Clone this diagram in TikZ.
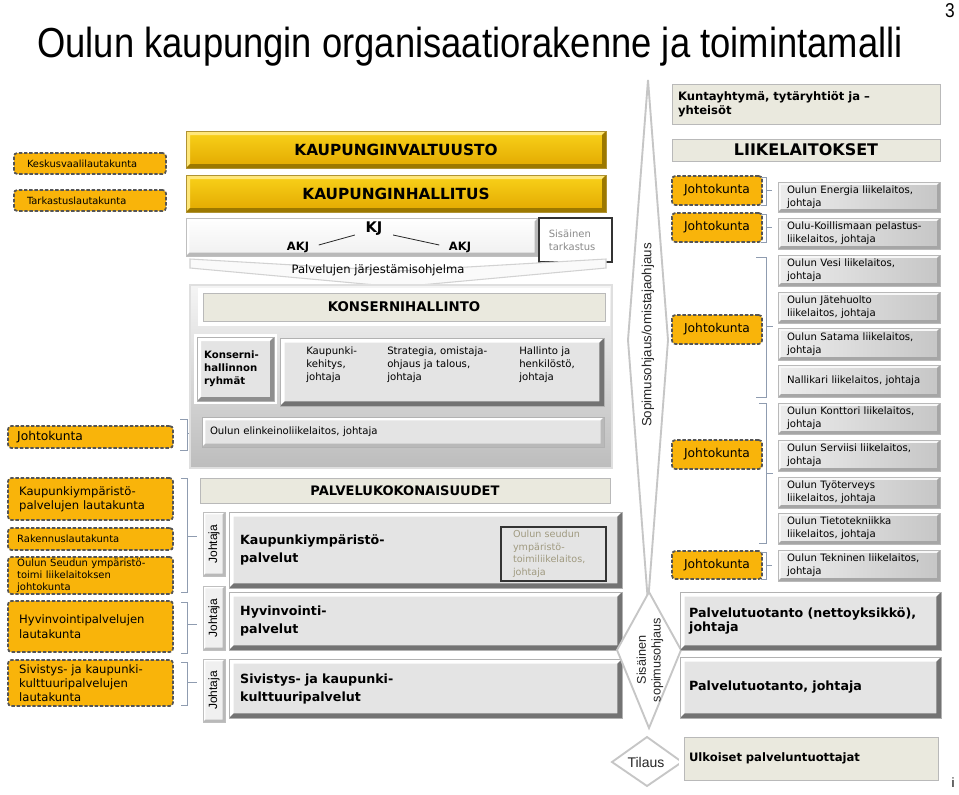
\documentclass[tikz,border=0pt]{standalone}
\usepackage{fontspec}
\usepackage{graphicx}
\setmainfont{DejaVu Sans}
\newfontfamily\arialf{Liberation Sans}
\usetikzlibrary{calc}
\definecolor{orng}{HTML}{F9B40A}
\definecolor{dashc}{HTML}{555555}
\definecolor{ytop}{HTML}{F9D21A}
\definecolor{ybot}{HTML}{E2A800}
\definecolor{yhi}{HTML}{FFE77A}
\definecolor{ydk}{HTML}{9C7800}
\definecolor{gfill}{HTML}{E4E4E4}
\definecolor{gdk}{HTML}{8E8E8E}
\definecolor{beige}{HTML}{EAE9DE}
\definecolor{khaki}{HTML}{A09A80}
\definecolor{txtgray}{HTML}{8A8A8A}
\definecolor{brkc}{HTML}{8F9CB0}
\newcommand\fsL{\fontsize{7.6}{9.75}\selectfont}
\newcommand\fsO{\fontsize{8.7}{10.8}\selectfont}
\newcommand\fsOs{\fontsize{7.5}{9}\selectfont}
\newcommand\fsJ{\fontsize{9.2}{11}\selectfont}
\newcommand\fsS{\bfseries\fontsize{9.5}{13.5}\selectfont}
\tikzset{
 bev/.style n args={3}{path picture={
   \fill[#1] (path picture bounding box.north west) -- (path picture bounding box.north east) -- ([shift={(-#3,-#3)}]path picture bounding box.north east) -- ([shift={(#3,-#3)}]path picture bounding box.north west) -- ([shift={(#3,#3)}]path picture bounding box.south west) -- (path picture bounding box.south west) -- cycle;
   \fill[#2] (path picture bounding box.north east) -- (path picture bounding box.south east) -- (path picture bounding box.south west) -- ([shift={(#3,#3)}]path picture bounding box.south west) -- ([shift={(-#3,#3)}]path picture bounding box.south east) -- ([shift={(-#3,-#3)}]path picture bounding box.north east) -- cycle;
 }},
 rr/.style n args={4}{minimum width={(#3-#1)*0.75pt}, minimum height={(#4-#2)*0.75pt}, at={({(#1+#3)/2},{(#2+#4)/2})}},
 bx/.style={inner sep=0pt, outer sep=0pt},
 ybar/.style={bx, top color=ytop, bottom color=ybot, bev={yhi}{ydk}{3pt}, draw=ydk!80, line width=0.4pt, font=\bfseries\fontsize{11.5}{13}\selectfont},
 gbox/.style={bx, fill=gfill, bev={white}{gdk}{3pt}, draw=gray!60, line width=0.4pt},
 sbox/.style={gbox, bev={white}{black!55}{3.5pt}, text width=278pt, align=left, font=\fsS},
 lbox/.style={bx, left color=gray!14, right color=gray!45, bev={gray!6}{gray!70}{2.2pt}, draw=gray!55, line width=0.3pt, text width=108pt, align=left, font=\fsL},
 obox/.style={bx, fill=orng, draw=dashc, dash pattern=on 2.6pt off 1.3pt, line width=1.3pt, rounded corners=2.5pt},
 bbox/.style={bx, fill=beige, draw=gray!55, line width=0.5pt, preaction={draw=white, line width=7pt}},
 brk/.style={draw=brkc, line width=0.7pt},
 dmd/.style={fill=white, draw=gray!45, line width=1.4pt, line join=miter},
 tab/.style={bx, fill=gray!12, bev={white}{gray!55}{1.8pt}, draw=gray!50, line width=0.3pt, preaction={draw=white, line width=5pt}},
 lft/.style={align=left},
}
\begin{document}
\begin{tikzpicture}[x=0.75pt,y=-0.75pt]
\useasboundingbox (0,0) rectangle (959,794);
\fill[white] (0,0) rectangle (959,794);
% title
\node[anchor=base west, inner sep=0] (title) at (37,57) {\scalebox{0.866}[1]{\arialf\fontsize{31.5}{36}\selectfont Oulun kaupungin organisaatiorakenne ja toimintamalli}};
\node[anchor=base, inner sep=0] (pnum) at (950,17) {\scalebox{0.866}[1]{\arialf\fontsize{15}{16}\selectfont 3}};
\node[anchor=base, inner sep=0] (icut) at (953,787) {\arialf\fontsize{10}{11}\selectfont i};
% left orange boxes
\node[obox, rr={14}{153}{166}{174}, text width=94.5pt, lft, font=\fontsize{7.4}{9}\selectfont] (kvl) {Keskusvaalilautakunta};
\node[obox, rr={14}{190}{166}{211}, text width=94.5pt, lft, font=\fontsize{7.4}{9}\selectfont] (tkl) {Tarkastuslautakunta};
\node[obox, rr={8}{426}{173}{448}, text width=110pt, lft, font=\fsJ] (jkl) {Johtokunta};
\node[obox, rr={8}{478}{173}{520}, text width=107pt, lft, font=\fsO] (kyl) {Kaupunkiympäristö-\\palvelujen lautakunta};
\node[obox, rr={8}{528}{173}{550}, text width=110pt, lft, font=\fsOs] (rkl) {Rakennuslautakunta};
\node[obox, rr={8}{557}{173}{594}, text width=110pt, lft, font=\fsOs] (osy) {Oulun Seudun ympäristö-\\toimi liikelaitoksen\\johtokunta};
\node[obox, rr={8}{601}{173}{652}, text width=107pt, lft, font=\fsO] (hyl) {Hyvinvointipalvelujen\\lautakunta};
\node[obox, rr={8}{660}{173}{706}, text width=107pt, lft, font=\fontsize{8.7}{10.5}\selectfont] (sil) {Sivistys- ja kaupunki-\\kulttuuripalvelujen\\lautakunta};
% left brackets
\draw[brk] (180,419) -- (187,419) -- (187,450) -- (180,450);
\draw[brk] (187,433) -- (197,433);
\draw[brk] (181,478) -- (187,478) -- (187,592) -- (181,592);
\draw[brk] (187,536) -- (197,536);
\draw[brk] (181,602) -- (187,602) -- (187,653) -- (181,653);
\draw[brk] (187,624) -- (197,624);
\draw[brk] (181,662) -- (187,662) -- (187,705) -- (181,705);
\draw[brk] (187,682) -- (197,682);
% yellow bars
\node[ybar, rr={186}{131}{606}{168}] (kv) {KAUPUNGINVALTUUSTO};
\node[ybar, rr={186}{175}{606}{212}] (kh) {KAUPUNGINHALLITUS};
% KJ box
\node[bx, rr={186}{218}{538}{256}, top color=white, bottom color=gray!12, bev={white}{gray!55}{2.5pt}, draw=gray!50, line width=0.3pt] (kjb) {};
\node[font=\bfseries\fontsize{11}{12}\selectfont] (kj) at (374,229) {KJ};
\node[font=\bfseries\fontsize{8.6}{10}\selectfont] (akjl) at (298,247) {AKJ};
\node[font=\bfseries\fontsize{8.6}{10}\selectfont] (akjr) at (460,247) {AKJ};
\draw[line width=0.6pt, gray!30!black] (akjl.east) ++(5,-2) -- ([shift={(-6,6)}]kj.west);
\draw[line width=0.6pt, gray!30!black] ([shift={(6,6)}]kj.east) -- ([shift={(-5,-2)}]akjr.west);
\node[bx, rr={539}{218}{612}{262}, fill=white, draw=gray!40!black, line width=0.8pt, text width=40pt, lft, text=txtgray, font=\fontsize{7.5}{9.5}\selectfont] (st) {Sisäinen\\tarkastus};
% chevron
\draw[fill=gray!4, draw=gray!35, line width=0.8pt] (190,259) -- (398,271) -- (606,259) -- (606,268) -- (398,287) -- (190,268) -- cycle;
\node[font=\fontsize{8.7}{10}\selectfont, inner sep=0] (pjo) at (378,270) {Palvelujen järjestämisohjelma};
% konsernihallinto container
\node[bx, rr={190}{285}{612}{468}, top color=gray!8, bottom color=gray!52, draw=gray!25, line width=1pt] (kc) {};
\node[bbox, rr={203}{293}{605}{321}, font=\bfseries\fontsize{10}{12}\selectfont] (khead) {KONSERNIHALLINTO};
\node[gbox, rr={197}{337}{274}{401}, preaction={draw=white, line width=5pt}, text width=47pt, lft, font=\bfseries\fontsize{7.6}{9.75}\selectfont] (kry) {Konserni-\\hallinnon\\ryhmät};
\node[gbox, rr={280}{338}{604}{406}, bev={white}{black!55}{3.5pt}] (kgrp) {};
\node[anchor=north west, inner sep=0, lft, font=\fsL] (kke) at (306,347) {Kaupunki-\\kehitys,\\johtaja};
\node[anchor=north west, inner sep=0, lft, font=\fsL] (sot) at (387,347) {Strategia, omistaja-\\ohjaus ja talous,\\johtaja};
\node[anchor=north west, inner sep=0, lft, font=\fsL] (hah) at (519,347) {Hallinto ja\\henkilöstö,\\johtaja};
\node[gbox, rr={202}{417}{604}{447}, bev={white}{gray!55}{2.5pt}, text width=289.5pt, lft, font=\fsL] (elk) {Oulun elinkeinoliikelaitos, johtaja};
% palvelukokonaisuudet
\node[bbox, rr={200}{478}{610}{503}, font=\bfseries\fontsize{9.8}{12}\selectfont] (pk) {PALVELUKOKONAISUUDET};
\node[tab, rr={203}{512}{225}{576}] (t1) {\rotatebox{90}{\arialf\fontsize{9}{10}\selectfont Johtaja}};
\node[tab, rr={203}{586}{225}{650}] (t2) {\rotatebox{90}{\arialf\fontsize{9}{10}\selectfont Johtaja}};
\node[tab, rr={203}{659}{225}{722}] (t3) {\rotatebox{90}{\arialf\fontsize{9}{10}\selectfont Johtaja}};
\node[sbox, rr={229}{512}{622}{588}] (s1) {Kaupunkiympäristö-\\palvelut};
\node[bx, rr={501}{527}{606}{581}, draw=gray!40!black, line width=0.8pt, text width=60.75pt, lft, text=khaki, font=\fontsize{7.2}{9.5}\selectfont] (ose) {Oulun seudun\\ympäristö-\\toimiliikelaitos,\\johtaja};
\node[sbox, rr={229}{592}{622}{650}] (s2) {Hyvinvointi-\\palvelut};
\node[sbox, rr={229}{659}{622}{718}] (s3) {Sivistys- ja kaupunki-\\kulttuuripalvelut};
% diamonds
\draw[dmd] (648,80) -- (668,340) -- (648,603) -- (628,340) -- cycle;
\node[rotate=90, inner sep=0, text=black!85, font=\arialf\fontsize{10}{11}\selectfont] (sop) at (648,335) {Sopimusohjaus/omistajaohjaus};
\draw[dmd] (649,592) -- (681,650) -- (649,728) -- (617,650) -- cycle;
\node[rotate=90, inner sep=0, align=center, text=black!85, font=\arialf\fontsize{9.5}{11}\selectfont] (sis) at (650,660) {Sisäinen\\sopimusohjaus};
\draw[dmd] (647,737) -- (682,762) -- (647,786) -- (612,762) -- cycle;
\node[inner sep=0, text=black!85, font=\arialf\fontsize{10.5}{12}\selectfont] (til) at (646,762) {Tilaus};
% right column
\node[bbox, rr={672}{84}{940}{124}, text width=192pt, lft, font=\bfseries\fontsize{8.7}{10.5}\selectfont] (kty) {Kuntayhtymä, tytäryhtiöt ja –\\yhteisöt};
\node[bbox, rr={672}{139}{940}{161}, font=\bfseries\fontsize{12}{13}\selectfont] (lkt) {LIIKELAITOKSET};
\node[obox, rr={672}{176}{762}{205}, font=\fsJ] (j1) {Johtokunta};
\node[obox, rr={672}{213}{762}{242}, font=\fsJ] (j2) {Johtokunta};
\node[obox, rr={672}{315}{762}{344}, font=\fsJ] (j3) {Johtokunta};
\node[obox, rr={672}{440}{762}{469}, font=\fsJ] (j4) {Johtokunta};
\node[obox, rr={672}{551}{762}{579}, font=\fsJ] (j5) {Johtokunta};
\draw[brk] (761,177) -- (766,177) -- (766,205) -- (761,205);
\draw[brk] (766,190) -- (772,190);
\draw[brk] (761,214) -- (766,214) -- (766,242) -- (761,242);
\draw[brk] (766,227) -- (772,227);
\draw[brk] (756,257) -- (766,257) -- (766,397) -- (756,397);
\draw[brk] (766,326) -- (773,326);
\draw[brk] (759,403) -- (766,403) -- (766,543) -- (759,543);
\draw[brk] (766,473) -- (773,473);
\draw[brk] (761,552) -- (766,552) -- (766,579) -- (761,579);
\draw[brk] (766,565) -- (772,565);
\node[lbox, rr={778}{182}{940}{212}] (l1) {Oulun Energia liikelaitos,\\johtaja};
\node[lbox, rr={778}{218}{940}{249}] (l2) {Oulu-Koillismaan pelastus-\\liikelaitos, johtaja};
\node[lbox, rr={778}{255}{940}{286}] (l3) {Oulun Vesi liikelaitos,\\johtaja};
\node[lbox, rr={778}{292}{940}{323}] (l4) {Oulun Jätehuolto\\liikelaitos, johtaja};
\node[lbox, rr={778}{328}{940}{360}] (l5) {Oulun Satama liikelaitos,\\johtaja};
\node[lbox, rr={778}{365}{940}{397}] (l6) {Nallikari liikelaitos, johtaja};
\node[lbox, rr={778}{403}{940}{434}] (l7) {Oulun Konttori liikelaitos,\\johtaja};
\node[lbox, rr={778}{440}{940}{471}] (l8) {Oulun Serviisi liikelaitos,\\johtaja};
\node[lbox, rr={778}{477}{940}{508}] (l9) {Oulun Työterveys\\liikelaitos, johtaja};
\node[lbox, rr={778}{513}{940}{544}] (l10) {Oulun Tietotekniikka\\liikelaitos, johtaja};
\node[lbox, rr={778}{550}{940}{581}] (l11) {Oulun Tekninen liikelaitos,\\johtaja};
\node[sbox, rr={680}{592}{941}{650}, text width=182pt, font=\bfseries\fontsize{9.5}{10.5}\selectfont] (pt1) {Palvelutuotanto (nettoyksikkö),\\johtaja};
\node[sbox, rr={680}{657}{941}{718}, text width=182pt, font=\bfseries\fontsize{9.5}{10.5}\selectfont] (pt2) {Palvelutuotanto, johtaja};
\node[bbox, rr={684}{737}{938}{780}, text width=183pt, lft, font=\bfseries\fontsize{8.7}{10.5}\selectfont] (ulk) {Ulkoiset palveluntuottajat};
\end{tikzpicture}
\end{document}
